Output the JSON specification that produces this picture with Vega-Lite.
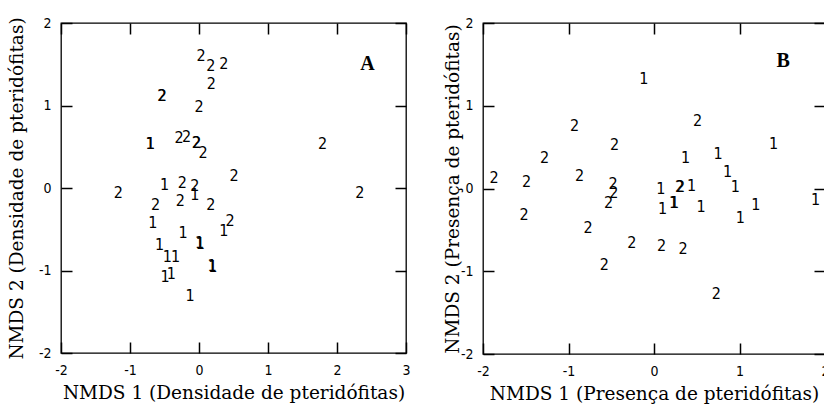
{
  "$schema": "https://vega.github.io/schema/vega-lite/v6.json",
  "padding": {"left": 6, "top": 15, "right": 0, "bottom": 0},
  "background": "white",
  "config": {
    "view": {"stroke": "black", "strokeWidth": 1.3},
    "axis": {
      "grid": false,
      "domain": false,
      "tickColor": "black",
      "tickWidth": 1.5,
      "tickSize": 11,
      "offset": -11,
      "labelPadding": 10,
      "labelExpr": "replace(datum.label, '−', '-')",
      "labelFont": "Liberation Sans Narrow, DejaVu Sans Condensed, sans-serif",
      "labelFontSize": 14,
      "labelColor": "black",
      "labelFlush": false,
      "labelOverlap": false,
      "titleFont": "DejaVu Serif",
      "titleFontSize": 18.5,
      "titleFontWeight": "normal",
      "titleColor": "black"
    }
  },
  "datasets": {
    "A": [
      {"x": 0.03, "y": 1.6, "g": "2"},
      {"x": 0.17, "y": 1.48, "g": "2"},
      {"x": 0.36, "y": 1.5, "g": "2"},
      {"x": 0.18, "y": 1.26, "g": "2"},
      {"x": -0.54, "y": 1.12, "g": "2"},
      {"x": -0.53, "y": 1.12, "g": "2"},
      {"x": 0.0, "y": 0.98, "g": "2"},
      {"x": -0.71, "y": 0.53, "g": "1"},
      {"x": -0.70, "y": 0.53, "g": "1"},
      {"x": -0.29, "y": 0.61, "g": "2"},
      {"x": -0.18, "y": 0.62, "g": "2"},
      {"x": -0.04, "y": 0.54, "g": "2"},
      {"x": -0.03, "y": 0.54, "g": "2"},
      {"x": 0.06, "y": 0.42, "g": "2"},
      {"x": 1.79, "y": 0.53, "g": "2"},
      {"x": 0.51, "y": 0.15, "g": "2"},
      {"x": 2.33, "y": -0.06, "g": "2"},
      {"x": -1.17, "y": -0.06, "g": "2"},
      {"x": -0.5, "y": 0.04, "g": "1"},
      {"x": -0.24, "y": 0.06, "g": "2"},
      {"x": -0.06, "y": 0.03, "g": "2"},
      {"x": -0.06, "y": -0.09, "g": "1"},
      {"x": -0.27, "y": -0.16, "g": "2"},
      {"x": -0.63, "y": -0.2, "g": "2"},
      {"x": 0.17, "y": -0.2, "g": "2"},
      {"x": -0.67, "y": -0.43, "g": "1"},
      {"x": 0.45, "y": -0.4, "g": "2"},
      {"x": 0.36, "y": -0.52, "g": "1"},
      {"x": -0.23, "y": -0.55, "g": "1"},
      {"x": -0.57, "y": -0.69, "g": "1"},
      {"x": 0.01, "y": -0.67, "g": "1"},
      {"x": 0.02, "y": -0.68, "g": "1"},
      {"x": -0.46, "y": -0.84, "g": "1"},
      {"x": -0.34, "y": -0.84, "g": "1"},
      {"x": -0.49, "y": -1.08, "g": "1"},
      {"x": -0.4, "y": -1.04, "g": "1"},
      {"x": 0.19, "y": -0.95, "g": "1"},
      {"x": 0.2, "y": -0.96, "g": "1"},
      {"x": -0.13, "y": -1.31, "g": "1"}
    ],
    "B": [
      {"x": -0.12, "y": 1.32, "g": "1"},
      {"x": 0.51, "y": 0.81, "g": "2"},
      {"x": -0.93, "y": 0.76, "g": "2"},
      {"x": 1.4, "y": 0.54, "g": "1"},
      {"x": -0.46, "y": 0.53, "g": "2"},
      {"x": -1.28, "y": 0.37, "g": "2"},
      {"x": 0.37, "y": 0.37, "g": "1"},
      {"x": 0.75, "y": 0.42, "g": "1"},
      {"x": 0.86, "y": 0.2, "g": "1"},
      {"x": -1.87, "y": 0.13, "g": "2"},
      {"x": -1.49, "y": 0.08, "g": "2"},
      {"x": -0.87, "y": 0.15, "g": "2"},
      {"x": -0.48, "y": 0.06, "g": "2"},
      {"x": -0.47, "y": -0.05, "g": "2"},
      {"x": -0.53, "y": -0.17, "g": "2"},
      {"x": 0.08, "y": -0.01, "g": "1"},
      {"x": 0.3, "y": 0.02, "g": "2"},
      {"x": 0.31, "y": 0.02, "g": "2"},
      {"x": 0.44, "y": 0.03, "g": "1"},
      {"x": 0.95, "y": 0.02, "g": "1"},
      {"x": 0.23, "y": -0.17, "g": "1"},
      {"x": 0.24, "y": -0.17, "g": "1"},
      {"x": 0.1, "y": -0.25, "g": "1"},
      {"x": 0.55, "y": -0.22, "g": "1"},
      {"x": 1.19, "y": -0.2, "g": "1"},
      {"x": 1.89, "y": -0.14, "g": "1"},
      {"x": 1.01, "y": -0.36, "g": "1"},
      {"x": -1.52, "y": -0.32, "g": "2"},
      {"x": -0.77, "y": -0.48, "g": "2"},
      {"x": -0.26, "y": -0.66, "g": "2"},
      {"x": 0.09, "y": -0.69, "g": "2"},
      {"x": 0.34, "y": -0.73, "g": "2"},
      {"x": -0.58, "y": -0.93, "g": "2"},
      {"x": 0.73, "y": -1.28, "g": "2"}
    ]
  },
  "hconcat": [
    {
      "width": 345,
      "height": 330,
      "layer": [
        {
          "data": {"name": "A"},
          "mark": {"type": "text", "font": "Liberation Sans Narrow, DejaVu Sans Condensed, sans-serif", "fontSize": 16, "color": "black", "align": "center", "baseline": "middle"},
          "encoding": {
            "x": {"field": "x", "type": "quantitative", "scale": {"domain": [-2, 3], "nice": false, "zero": false},
                  "axis": {"orient": "bottom", "values": [-2, -1, 0, 1, 2, 3], "title": "NMDS 1 (Densidade de pteridófitas)", "titlePadding": 6}},
            "y": {"field": "y", "type": "quantitative", "scale": {"domain": [-2, 2], "nice": false, "zero": false},
                  "axis": {"orient": "left", "values": [-2, -1, 0, 1, 2], "title": "NMDS 2 (Densidade de pteridófitas)", "titlePadding": 12}},
            "text": {"field": "g"}
          }
        },
        {
          "data": {"values": [{"x": 2.44, "y": 1.5, "t": "A"}]},
          "mark": {"type": "text", "font": "Liberation Serif", "fontSize": 20, "fontWeight": "bold", "color": "black", "align": "center", "baseline": "middle"},
          "encoding": {
            "x": {"field": "x", "type": "quantitative", "axis": {"orient": "top", "values": [-2, -1, 0, 1, 2, 3], "labels": false, "title": null}},
            "y": {"field": "y", "type": "quantitative", "axis": {"orient": "right", "values": [-2, -1, 0, 1, 2], "labels": false, "title": null}},
            "text": {"field": "t"}
          }
        }
      ],
      "resolve": {"axis": {"x": "independent", "y": "independent"}}
    },
    {
      "width": 342,
      "height": 331,
      "layer": [
        {
          "data": {"name": "B"},
          "mark": {"type": "text", "font": "Liberation Sans Narrow, DejaVu Sans Condensed, sans-serif", "fontSize": 16, "color": "black", "align": "center", "baseline": "middle"},
          "encoding": {
            "x": {"field": "x", "type": "quantitative", "scale": {"domain": [-2, 2], "nice": false, "zero": false},
                  "axis": {"orient": "bottom", "values": [-2, -1, 0, 1, 2], "title": "NMDS 1 (Presença de pteridófitas)", "titlePadding": 6}},
            "y": {"field": "y", "type": "quantitative", "scale": {"domain": [-2, 2], "nice": false, "zero": false},
                  "axis": {"orient": "left", "values": [-2, -1, 0, 1, 2], "title": "NMDS 2 (Presença de pteridófitas)", "titlePadding": -2}},
            "text": {"field": "g"}
          }
        },
        {
          "data": {"values": [{"x": 1.51, "y": 1.54, "t": "B"}]},
          "mark": {"type": "text", "font": "Liberation Serif", "fontSize": 20, "fontWeight": "bold", "color": "black", "align": "center", "baseline": "middle"},
          "encoding": {
            "x": {"field": "x", "type": "quantitative", "axis": {"orient": "top", "values": [-2, -1, 0, 1, 2], "labels": false, "title": null}},
            "y": {"field": "y", "type": "quantitative", "axis": {"orient": "right", "values": [-2, -1, 0, 1, 2], "labels": false, "title": null}},
            "text": {"field": "t"}
          }
        }
      ],
      "resolve": {"axis": {"x": "independent", "y": "independent"}}
    }
  ],
  "spacing": 31
}
